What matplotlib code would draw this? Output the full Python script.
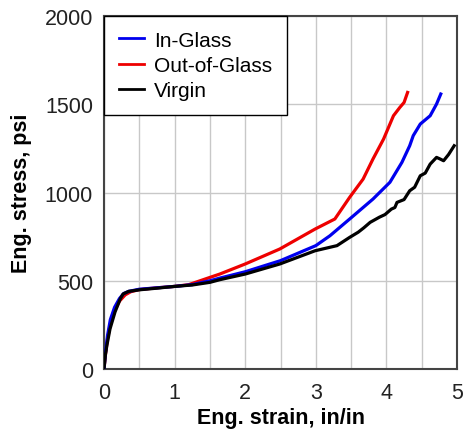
import matplotlib
matplotlib.use("Agg")
import matplotlib.pyplot as plt

plt.rcParams['font.family'] = ['Liberation Sans', 'DejaVu Sans']

# Engineering stress-strain curves (strain in/in, stress psi)
in_glass_strain = [0.0, 0.02, 0.05, 0.09, 0.15, 0.22, 0.28, 0.35, 0.5, 0.75, 1.0, 1.25, 1.5, 1.64,
                   2.0, 2.5, 3.0, 3.2, 3.48, 3.81, 4.05, 4.22, 4.33, 4.38, 4.48, 4.62, 4.71, 4.77]
in_glass_stress = [0, 90, 190, 280, 350, 400, 428, 440, 452, 460, 468, 478, 500, 515,
                   551, 614, 699, 755, 850, 963, 1058, 1171, 1265, 1322, 1388, 1435, 1501, 1558]

out_glass_strain = [0.0, 0.02, 0.05, 0.09, 0.15, 0.22, 0.3, 0.38, 0.5, 0.75, 1.0, 1.2, 1.5, 1.64,
                    2.0, 2.49, 2.99, 3.27, 3.48, 3.67, 3.81, 3.96, 4.1, 4.19, 4.25, 4.3]
out_glass_stress = [0, 80, 170, 255, 330, 385, 420, 438, 450, 460, 468, 478, 519, 538,
                    595, 680, 793, 850, 973, 1076, 1190, 1303, 1435, 1482, 1510, 1567]

virgin_strain = [0.0, 0.02, 0.04, 0.085, 0.156, 0.23, 0.27, 0.35, 0.51, 0.75, 1.0, 1.25, 1.5, 1.64,
                 2.0, 2.49, 2.99, 3.3, 3.48, 3.6, 3.68, 3.77, 3.9, 3.98, 4.07, 4.12, 4.15, 4.25,
                 4.33, 4.4, 4.48, 4.55, 4.62, 4.71, 4.76, 4.81, 4.88, 4.96]
virgin_stress = [0, 80, 132, 227, 323, 397, 425, 440, 449, 458, 468, 476, 491, 506,
                 538, 595, 670, 699, 746, 775, 800, 831, 860, 875, 906, 915, 944, 960,
                 1010, 1030, 1095, 1110, 1161, 1199, 1190, 1180, 1215, 1265]

x_ticks = [0, 1, 2, 3, 4, 5]
y_ticks = [0, 500, 1000, 1500, 2000]

fig = plt.figure(figsize=(4.67, 4.35), dpi=100)
ax = fig.add_axes([0.2227, 0.1494, 0.7559, 0.8115])

lw = 2.3
ax.plot(in_glass_strain, in_glass_stress, color='#0000ee', lw=lw, label='In-Glass', zorder=3)
ax.plot(out_glass_strain, out_glass_stress, color='#ee0000', lw=lw, label='Out-of-Glass', zorder=2)
ax.plot(virgin_strain, virgin_stress, color='black', lw=lw, label='Virgin', zorder=4)

ax.set_xlim(0, 5)
ax.set_ylim(0, 2000)
ax.set_xticks(x_ticks)
ax.set_yticks(y_ticks)
ax.set_xticks([0.5, 1.5, 2.5, 3.5, 4.5], minor=True)
ax.grid(True, which='both', axis='x', color='#c8c8c8', lw=1.0)
ax.grid(True, which='major', axis='y', color='#c8c8c8', lw=1.0)
ax.set_axisbelow(True)
ax.tick_params(which='both', length=0)
ax.tick_params(axis='x', labelsize=15.5, pad=9, colors='#222222')
ax.tick_params(axis='y', labelsize=15.5, pad=8, colors='#222222')

for s in ax.spines.values():
    s.set_color('#444444')
    s.set_linewidth(1.5)

ax.set_xlabel('Eng. strain, in/in', fontsize=15.5, fontweight='bold', labelpad=3)
ax.set_ylabel('Eng. stress, psi', fontsize=15.5, fontweight='bold', labelpad=9)

leg = ax.legend(loc='upper left', bbox_to_anchor=(0, 1), borderaxespad=0,
                fontsize=15, fancybox=False, framealpha=1, edgecolor='black',
                handlelength=1.2, handletextpad=0.5, labelspacing=0.3,
                borderpad=0.7)
leg.get_frame().set_linewidth(1.0)
for h in leg.get_lines():
    h.set_linewidth(2.0)

fig.savefig('out.png', dpi=100)
